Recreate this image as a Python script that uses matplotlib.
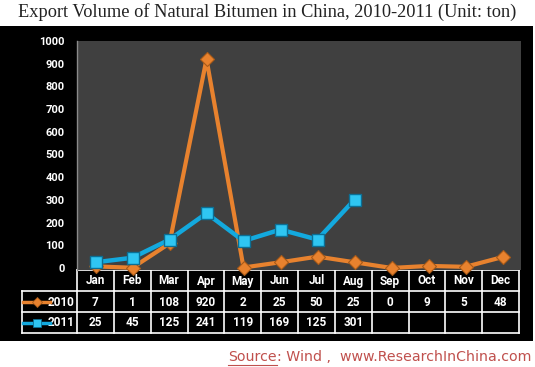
import matplotlib
matplotlib.use("Agg")
import matplotlib.pyplot as plt
from matplotlib.patches import Rectangle
from matplotlib.lines import Line2D

months = ["Jan", "Feb", "Mar", "Apr", "May", "Jun", "Jul", "Aug", "Sep", "Oct", "Nov", "Dec"]
v2010 = [7, 1, 108, 920, 2, 25, 50, 25, 0, 9, 5, 48]
v2011 = [25, 45, 125, 241, 119, 169, 125, 301]
series_names = ["2010", "2011"]
yticks = [0, 100, 200, 300, 400, 500, 600, 700, 800, 900, 1000]
title = "Export Volume of Natural Bitumen in China, 2010-2011 (Unit: ton)"

W, H = 535, 367
fig = plt.figure(figsize=(W / 100, H / 100), dpi=100)
fig.patch.set_facecolor("white")

# overlay in pixel coordinates
ov = fig.add_axes([0, 0, 1, 1])
ov.set_xlim(0, W)
ov.set_ylim(H, 0)
ov.axis("off")
ov.add_patch(Rectangle((0, 26), 533, 315, facecolor="black", edgecolor="none", zorder=0))

NUMFAM = ["Roboto", "DejaVu Sans"]
PL, PR, PT, PB = 77, 521, 41, 270
ax = fig.add_axes([PL / W, 1 - PB / H, (PR - PL) / W, (PB - PT) / H])
ax.set_facecolor("#404040")
ax.set_xlim(-0.5, 11.5)
ax.set_ylim(-9, 1000)
for s in ["top", "right", "bottom"]:
    ax.spines[s].set_visible(False)
ax.spines["left"].set_color("#8a8a8a")
ax.spines["left"].set_linewidth(1)
ax.set_xticks([])
ax.set_yticks(yticks)
ax.tick_params(axis="y", length=0, pad=9, colors="white")
for lab in ax.get_yticklabels():
    lab.set_fontfamily(NUMFAM)
    lab.set_fontweight("bold")
    lab.set_fontsize(8)
    lab.set_color("white")

c10, c10e = "#E8822E", "#A85A18"
c11, c11f, c11e = "#13A9DE", "#2FC6F2", "#0B6F95"
x10 = list(range(len(v2010)))
x11 = list(range(len(v2011)))
ax.plot(x10, v2010, color=c10, lw=3, marker="D", ms=7.5, mfc=c10, mec=c10e, mew=0.8,
        zorder=3, clip_on=False)
ax.plot(x11, v2011, color=c11, lw=3.2, marker="s", ms=9, mfc=c11f, mec=c11e, mew=1.0,
        zorder=4, clip_on=False)

# table
TL, TR = 22, 519
rows_y = [270, 291, 312, 333]
colw = (TR - PL) / 12.0
lc = "white"
lw = 1.2
ov.add_line(Line2D([PL, TR], [270, 270], color=lc, lw=lw, zorder=5))
for y in rows_y[1:]:
    ov.add_line(Line2D([TL, TR], [y, y], color=lc, lw=lw, zorder=5))
ov.add_line(Line2D([TL, TL], [291, 333], color=lc, lw=lw, zorder=5))
for i in range(13):
    x = PL + i * colw
    ov.add_line(Line2D([x, x], [270, 333], color=lc, lw=lw, zorder=5))

tfont = dict(family=NUMFAM, weight="bold", size=8.5, color="white")
for i, m in enumerate(months):
    cx = PL + (i + 0.5) * colw
    ov.text(cx, 281, m, ha="center", va="center", **tfont)
    ov.text(cx, 302, str(v2010[i]), ha="center", va="center", **tfont)
    if i < len(v2011):
        ov.text(cx, 323, str(v2011[i]), ha="center", va="center", **tfont)

# legend keys
ov.add_line(Line2D([23, 50], [302, 302], color=c10, lw=2.5, zorder=6))
ov.plot([36.5], [302], marker="D", ms=5, color=c10, mec=c10e, mew=0.6, zorder=7)
ov.text(74, 302, series_names[0], ha="right", va="center", **tfont)
ov.add_line(Line2D([23, 50], [323, 323], color=c11, lw=2.5, zorder=6))
ov.plot([36.5], [323], marker="s", ms=6, color=c11f, mec=c11e, mew=0.6, zorder=7)
ov.text(74, 323, series_names[1], ha="right", va="center", **tfont)

# title
ov.text(267, 12, title, ha="center", va="center", family=["Liberation Serif", "DejaVu Serif"],
        size=13.2, color="#222222")

# source
src_color = "#C0504D"
sfam = ["DejaVu Sans"]
t1 = ov.text(228, 357, "Source", ha="left", va="center", family=sfam, size=10.2, color=src_color)
fig.canvas.draw()
bb = t1.get_window_extent()
inv = ov.transData.inverted()
(x0, _), (x1, _) = inv.transform([[bb.x0, bb.y0], [bb.x1, bb.y1]])
ov.text(x1, 357, ": Wind ,  www.ResearchInChina.com", ha="left", va="center",
        family=sfam, size=10.2, color=src_color)
ov.add_line(Line2D([x0, x1], [364.5, 364.5], color=src_color, lw=0.8))

fig.savefig("out.png", dpi=100, facecolor="white")
